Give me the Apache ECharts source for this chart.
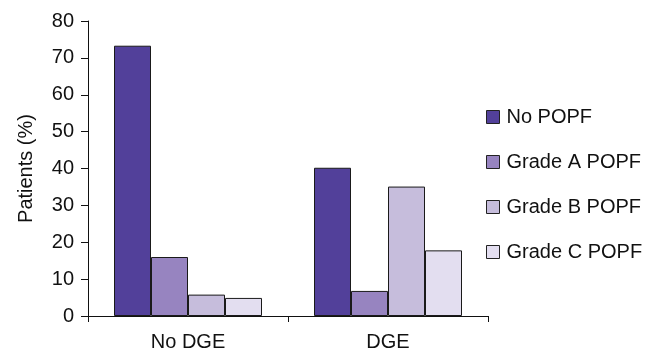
<!DOCTYPE html>
<html>
<head>
<meta charset="utf-8">
<script src="https://cdn.jsdelivr.net/npm/echarts@6/dist/echarts.min.js"></script>
<style>
  html, body { margin: 0; padding: 0; background: #fff; }
  #chart { width: 648px; height: 352px; }
</style>
</head>
<body>
<div id="chart"></div>
<script>
// Groups on the x axis
const categories = ['No DGE', 'DGE'];

// Percentage of patients per fistula grade in each group
const noPopf = [73.3, 40.2];
const gradeA = [16.0, 6.8];
const gradeB = [5.8, 35.1];
const gradeC = [4.9, 17.8];

const seriesNames = ['No POPF', 'Grade A POPF', 'Grade B POPF', 'Grade C POPF'];
const seriesValues = [noPopf, gradeA, gradeB, gradeC];
const seriesColors = ['#52409a', '#9784c0', '#c6bddc', '#e3def0'];

const FONT = '"Liberation Sans", Arial, sans-serif';

const chart = echarts.init(document.getElementById('chart'), null, { renderer: 'canvas' });

chart.setOption({
  animation: false,
  backgroundColor: '#ffffff',
  textStyle: { fontFamily: FONT, color: '#111' },
  grid: { left: 88, right: 160, top: 21, bottom: 34, containLabel: false },
  legend: {
    orient: 'vertical',
    left: 481,
    top: 102,
    itemWidth: 13,
    itemHeight: 13,
    itemGap: 25,
    icon: 'rect',
    itemStyle: { borderColor: '#222', borderWidth: 1 },
    textStyle: { fontFamily: FONT, fontSize: 20, color: '#111', padding: [0, 0, 0, 2] },
    data: seriesNames
  },
  xAxis: {
    type: 'category',
    data: categories,
    axisLine: { lineStyle: { color: '#111', width: 1 } },
    axisTick: { show: true, length: 6, alignWithLabel: false, lineStyle: { color: '#111' } },
    axisLabel: { fontFamily: FONT, fontSize: 20, color: '#111', margin: 16 },
    splitLine: { show: false }
  },
  yAxis: {
    type: 'value',
    min: 0,
    max: 80,
    interval: 10,
    name: 'Patients (%)',
    nameLocation: 'middle',
    nameGap: 52,
    nameTextStyle: { fontFamily: FONT, fontSize: 20, color: '#111' },
    axisLine: { show: true, lineStyle: { color: '#111', width: 1 } },
    axisTick: { show: true, length: 7, lineStyle: { color: '#111' } },
    axisLabel: { fontFamily: FONT, fontSize: 20, color: '#111', margin: 14 },
    splitLine: { show: false }
  },
  series: seriesNames.map((name, i) => ({
    name: name,
    type: 'bar',
    data: seriesValues[i],
    barGap: '0%',
    barCategoryGap: '26%',
    itemStyle: { color: seriesColors[i], borderColor: '#1a1a1a', borderWidth: 1 }
  }))
});
</script>
</body>
</html>
